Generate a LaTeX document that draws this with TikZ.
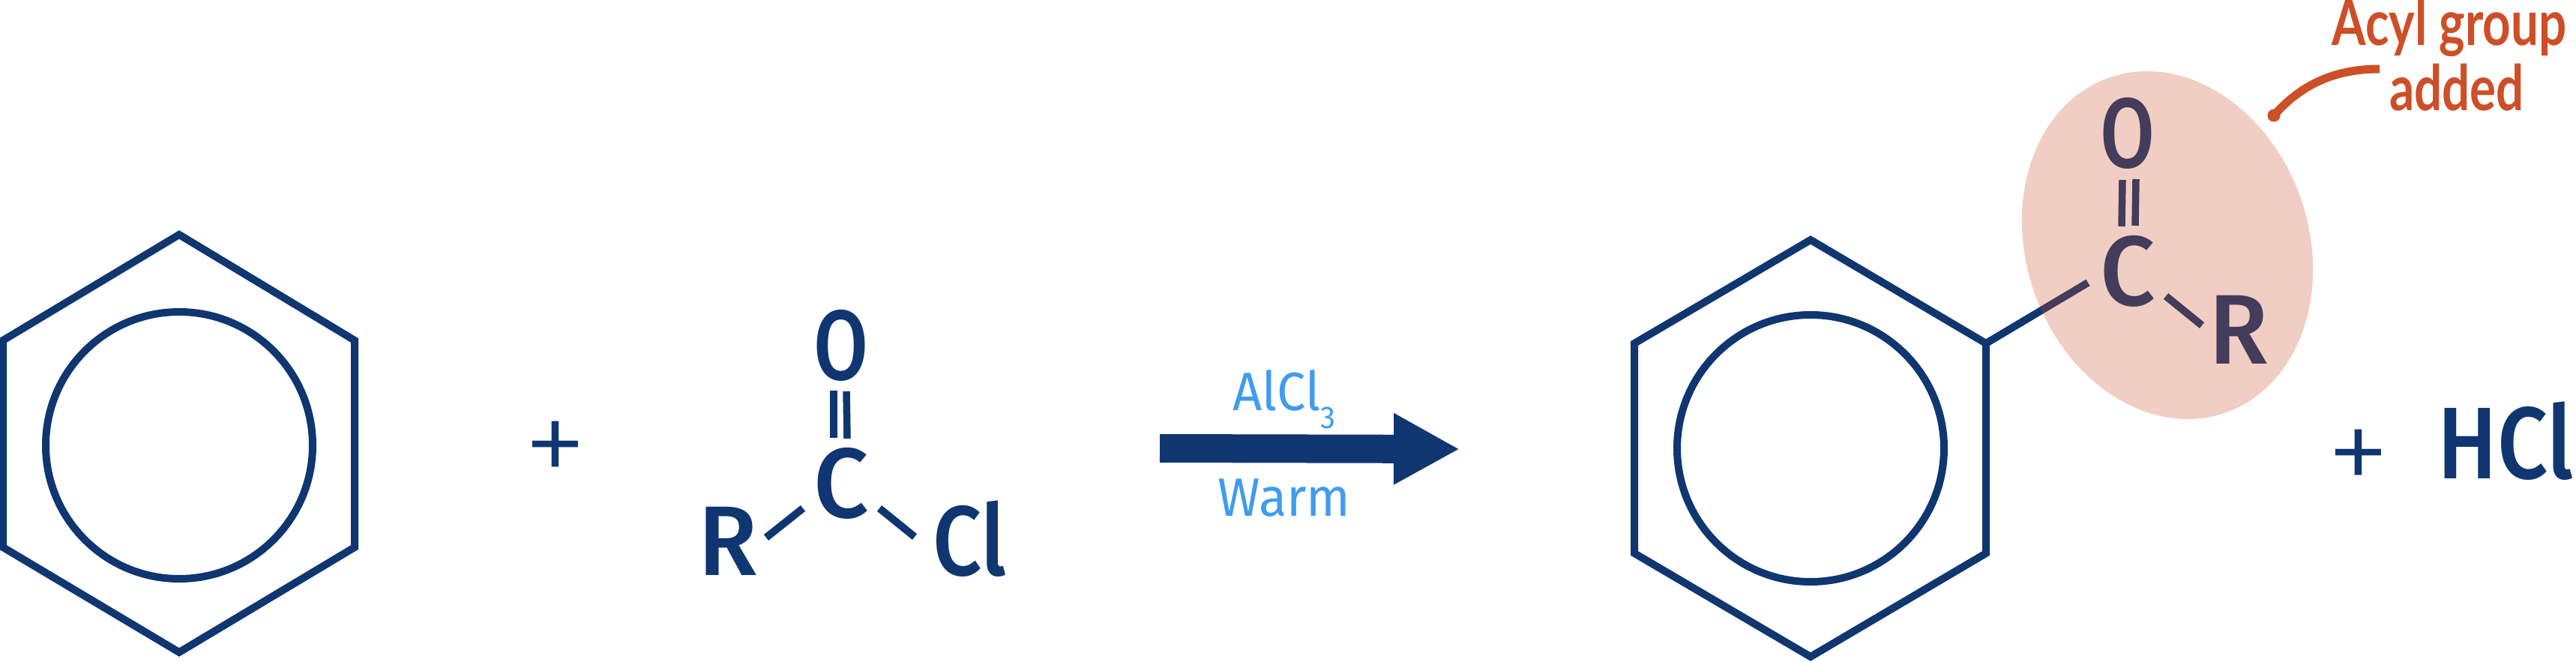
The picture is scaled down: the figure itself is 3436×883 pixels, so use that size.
\documentclass[tikz,border=0pt]{standalone}
\usepackage{fontspec}
\usetikzlibrary{arrows.meta,shapes.geometric}
\setmainfont{Fira Sans}
\newfontfamily\chemO[FakeStretch=0.8]{Fira Sans Medium}
\newfontfamily\chemC[FakeStretch=0.98]{Fira Sans Medium}
\newfontfamily\chemL[FakeStretch=0.87]{Fira Sans Medium}
\newfontfamily\plusf{Fira Sans Light}
\newfontfamily\reag[FakeStretch=0.95]{Fira Sans}
\newfontfamily\hand[FakeStretch=0.78]{Lato Bold}
\definecolor{navy}{HTML}{0F3670}
\definecolor{sky}{HTML}{3F9CEF}
\definecolor{rust}{HTML}{CD4F27}
\tikzset{
 chemtxt/.style={anchor=base,text=navy,inner sep=0pt},
 oxy/.style={chemtxt,font=\chemO\fontsize{132}{132}\selectfont},
 carb/.style={chemtxt,font=\chemC\fontsize{132}{132}\selectfont},
 wide/.style={chemtxt,font=\chemL\fontsize{132}{132}\selectfont},
 bigtxt/.style={chemtxt,font=\chemL\fontsize{136}{136}\selectfont},
 plustxt/.style={chemtxt,font=\plusf\fontsize{172}{172}\selectfont},
 reagtxt/.style={anchor=base,text=sky,inner sep=0pt,font=\reag\fontsize{72}{72}\selectfont},
 notetxt/.style={anchor=base,text=rust,inner sep=0pt,font=\hand\fontsize{84}{84}\selectfont},
 ringline/.style={draw=navy,line width=10pt,line join=miter},
 bond/.style={draw=navy,line width=10pt},
 dbond/.style={draw=navy,line width=9.5pt},
 ringcircle/.style={circle,draw=navy,line width=10pt,minimum size=356pt,inner sep=0pt},
}
\begin{document}
\begin{tikzpicture}[x=1pt,y=-1pt]
\useasboundingbox (0,0) rectangle (3436,883);
% left ring
\draw[ringline] (239,313) -- (473,454) -- (473,730) -- (239,870) -- (4,730) -- (4,454) -- cycle;
\node[ringcircle] (ringA) at (239,594) {};
\node[plustxt] (plusA) at (741,649) {+};
% acyl chloride
\node[oxy] (oA) at (1122,506) {O};
\node[carb] (cA) at (1122,690) {C};
\node[carb] (rA) at (971,767) {R};
\node[wide] (clA) at (1293,767) {Cl};
\coordinate (dA1) at (1112,521); \coordinate (dA2) at (1112,584);
\coordinate (dB1) at (1129,522); \coordinate (dB2) at (1130,585);
\coordinate (bA1) at (1071,678); \coordinate (bA2) at (1022,717);
\coordinate (bB1) at (1173,678); \coordinate (bB2) at (1220,716);
\draw[dbond] (dA1) -- (dA2);
\draw[dbond] (dB1) -- (dB2);
\draw[bond] (bA1) -- (bA2);
\draw[bond] (bB1) -- (bB2);
% arrow
\coordinate (arS) at (1547,598); \coordinate (arE) at (1947,599);
\draw[navy,line width=38pt,-{Triangle[length=88pt,width=89pt]}] (arS) -- (arE);
\node[reagtxt] (alcl) at (1713,547) {AlCl\raisebox{-24pt}{\fontsize{42}{42}\selectfont 3}};
\node[reagtxt] (warm) at (1713,688) {Warm};
% right ring
\draw[ringline] (2415,320) -- (2649,458) -- (2649,738) -- (2415,876) -- (2180,738) -- (2180,458) -- cycle;
\node[ringcircle] (ringB) at (2415,598) {};
\coordinate (rv) at (2649,458); \coordinate (bC) at (2785,377);
\draw[bond] (rv) -- (bC);
\node[oxy] (oB) at (2838,223) {O};
\node[carb] (cB) at (2838,407) {C};
\node[carb] (rB) at (2986,485) {R};
\coordinate (dC1) at (2831,240); \coordinate (dC2) at (2830,302);
\coordinate (dD1) at (2849,239); \coordinate (dD2) at (2848,301);
\coordinate (bD1) at (2889,395); \coordinate (bD2) at (2937,434);
\draw[dbond] (dC1) -- (dC2);
\draw[dbond] (dD1) -- (dD2);
\draw[bond] (bD1) -- (bD2);
\node[plustxt] (plusB) at (3146,660) {+};
\node[bigtxt] (hcl) at (3342,638) {HCl};
% highlight
\node[ellipse,fill=rust,fill opacity=.28,draw=none,minimum width=377pt,minimum height=473pt,inner sep=0pt,rotate=19] (hl) at (2891,327) {};
% callout
\node[notetxt] (n1) at (3267,61) {Acyl group};
\node[notetxt] (n2) at (3277,147) {added};
\coordinate (cS) at (3174,92);
\node[circle,fill=rust,minimum size=17pt,inner sep=0pt] (dot) at (3033,154) {};
\draw[rust,line width=11pt] (cS) .. controls (3115,92) and (3070,112) .. (dot.center);
\end{tikzpicture}
\end{document}
